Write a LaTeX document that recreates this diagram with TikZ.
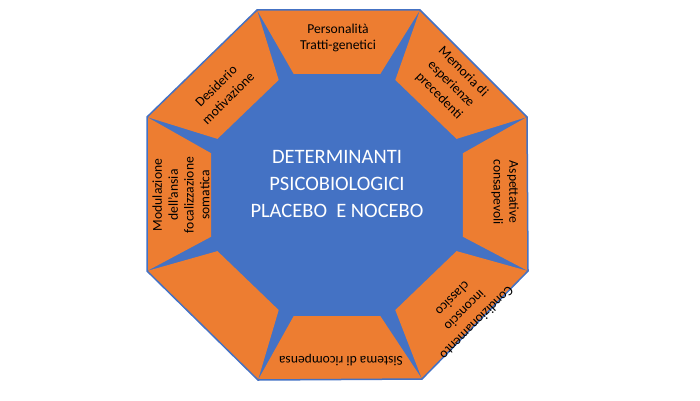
\documentclass[tikz,border=0pt]{standalone}
\usepackage{fontspec}
\setmainfont{Carlito}
\usetikzlibrary{calc}
\definecolor{octblue}{HTML}{4472C4}
\definecolor{segorange}{HTML}{ED7D31}
\begin{document}
\begin{tikzpicture}[x=1pt,y=1pt,
  seg/.style={fill=segorange,draw=none},
  rim/.style={draw=octblue,line width=1.5pt,line join=miter},
  segtext/.style={font=\fontsize{13.6}{15.8}\selectfont,align=center,text=black,inner sep=0pt},
  diagtext/.style={segtext,font=\fontsize{13.6}{17}\selectfont},
  maintext/.style={font=\fontsize{20.5}{27}\selectfont,align=center,text=white,inner sep=0pt}]
\useasboundingbox (0,0) rectangle (700,400);
\coordinate (O) at (337,205);
\coordinate (V1) at (257,390);
\coordinate (V2) at (420,390);
\coordinate (V3) at (527,283);
\coordinate (V4) at (528,129);
\coordinate (V5) at (422,21);
\coordinate (V6) at (258,20);
\coordinate (V7) at (147,129);
\coordinate (V8) at (147,283);
\fill[octblue] (V1)--(V2)--(V3)--(V4)--(V5)--(V6)--(V7)--(V8)--cycle;
\foreach \t/\a/\b in {90/V1/V2,45/V2/V3,0/V3/V4,-45/V4/V5,-90/V5/V6,-135/V6/V7,180/V7/V8,135/V8/V1}{
  \fill[seg] (\a) -- (\b) -- ($(O)+({\t-19}:133 and 128)$) -- ($(O)+({\t+19}:133 and 128)$) -- cycle;
}
\draw[rim] (V1)--(V2)--(V3)--(V4)--(V5)--(V6)--(V7)--(V8)--cycle;
\node[maintext] (centre) at (337,216) {DETERMINANTI\\PSICOBIOLOGICI\\PLACEBO\ \ E NOCEBO};
\node[segtext,rotate=0] (s1) at (338,362) {Personalità\\Tratti-genetici};
\node[diagtext,rotate=-45] (s2) at (451,316) {Memoria di\\esperienze\\precedenti};
\node[segtext,rotate=-90] (s3) at (505,208) {Aspettative\\consapevoli};
\node[diagtext,rotate=-135] (s4) at (465,89) {Condizionamento\\inconscio\\classico};
\node[segtext,rotate=180] (s5) at (341,40) {Sistema di ricompensa};
\node[segtext,rotate=90] (s7) at (181,205) {Modulazione\\dell'ansia\\focalizzazione\\somatica};
\node[diagtext,rotate=45] (s8) at (222,308) {Desiderio\\motivazione};
\end{tikzpicture}
\end{document}
